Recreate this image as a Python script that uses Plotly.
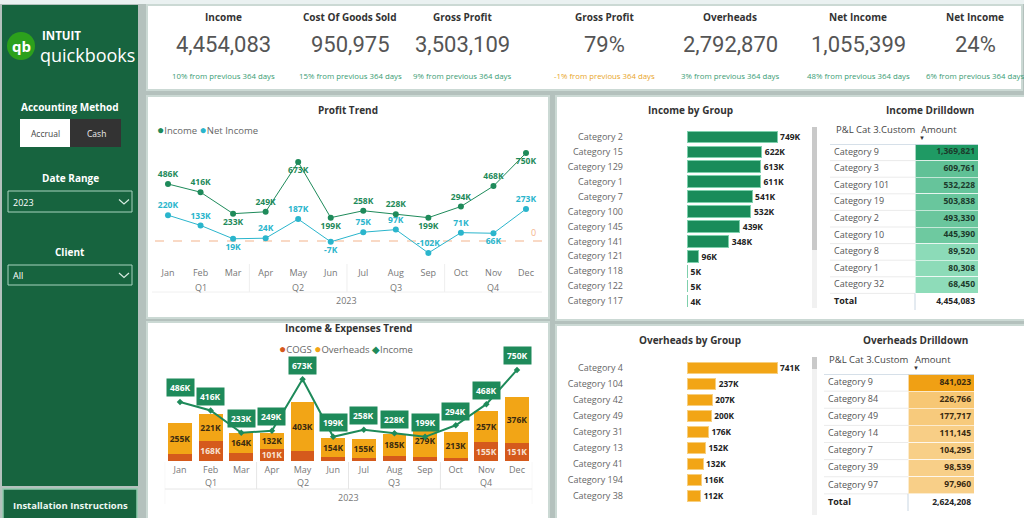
import plotly.graph_objects as go

W, H = 1024, 518
def X(px): return px / W
def Y(py): return 1 - py / H

# ---------------- DATA ----------------
months = ["Jan", "Feb", "Mar", "Apr", "May", "Jun", "Jul", "Aug", "Sep", "Oct", "Nov", "Dec"]
quarters = ["Q1", "Q2", "Q3", "Q4"]
year_label = "2023"
income_k = [486, 416, 233, 249, 673, 199, 258, 228, 199, 294, 468, 750]
net_income_k = [220, 133, 19, 24, 187, -7, 75, 97, -102, 71, 66, 273]
cogs_k = [60, 168, 69, 101, 82, 33, 27, 41, 33, 25, 155, 151]
overheads_k = [255, 221, 164, 132, 403, 154, 155, 185, 279, 213, 257, 376]

income_groups = ["Category 2", "Category 15", "Category 129", "Category 1", "Category 7", "Category 100",
                 "Category 145", "Category 141", "Category 121", "Category 118", "Category 122", "Category 117"]
income_group_k = [749, 622, 613, 611, 541, 532, 439, 348, 96, 5, 5, 4]

overhead_groups = ["Category 4", "Category 104", "Category 42", "Category 49", "Category 31", "Category 13",
                   "Category 41", "Category 194", "Category 38"]
overhead_group_k = [741, 237, 207, 200, 176, 152, 132, 116, 112]

income_dd_cats = ["Category 9", "Category 3", "Category 101", "Category 19", "Category 2", "Category 10",
                  "Category 8", "Category 1", "Category 32"]
income_dd_amounts = [1369821, 609761, 532228, 503838, 493330, 445390, 89520, 80308, 68450]
income_dd_total = 4454083

overhead_dd_cats = ["Category 9", "Category 84", "Category 49", "Category 14", "Category 7", "Category 39", "Category 97"]
overhead_dd_amounts = [841023, 226766, 177717, 111145, 104295, 98539, 97960]
overhead_dd_total = 2624208

kpi_titles = ["Income", "Cost Of Goods Sold", "Gross Profit", "Gross Profit", "Overheads", "Net Income", "Net Income"]
kpi_values = ["4,454,083", "950,975", "3,503,109", "79%", "2,792,870", "1,055,399", "24%"]
kpi_changes = ["10% from previous 364 days", "15% from previous 364 days", "9% from previous 364 days",
               "-1% from previous 364 days", "3% from previous 364 days", "48% from previous 364 days",
               "6% from previous 364 days"]

# ---------------- STYLE ----------------
FONT = "Open Sans"
GREEN = "#1e8a5a"
CYAN = "#2ab5cc"
COGS_C = "#d55a1c"
OVH_C = "#f2a516"
SIDEBAR = "#17643f"
BG = "#b4c1bd"
PANEL_LINE = "#cbd9d4"
kpi_x = [223, 350, 462, 604, 730, 858, 975]

fig = go.Figure()

# ---------- Profit Trend (x / y) ----------
inc_pos = ["top center", "top center", "bottom center", "top center", "bottom center", "bottom center",
           "top center", "top center", "bottom center", "top center", "top center", "bottom center"]
net_pos = ["top center", "top center", "bottom center", "top center", "top center", "bottom center",
           "top center", "top center", "top center", "top center", "bottom center", "top center"]

fig.add_trace(go.Scatter(
    x=months, y=income_k, mode="lines+markers+text", xaxis="x", yaxis="y",
    line=dict(color=GREEN, width=1), marker=dict(color=GREEN, size=6),
    text=[f"{v}K" for v in income_k], texttemplate="<b>%{text}</b>", textposition=inc_pos,
    textfont=dict(color=GREEN, size=8.5, family=FONT), cliponaxis=False, showlegend=False))
fig.add_trace(go.Scatter(
    x=months, y=net_income_k, mode="lines+markers+text", xaxis="x", yaxis="y",
    line=dict(color=CYAN, width=1), marker=dict(color=CYAN, size=6),
    text=[f"{v}K" for v in net_income_k], texttemplate="<b>%{text}</b>", textposition=net_pos,
    textfont=dict(color=CYAN, size=8.5, family=FONT), cliponaxis=False, showlegend=False))

# ---------- Income & Expenses Trend (x2 / y2) ----------
fig.add_trace(go.Bar(
    x=months, y=cogs_k, xaxis="x2", yaxis="y2", marker=dict(color=COGS_C, line=dict(width=0)), width=0.78,
    text=[f"{v}K" if v >= 100 else "" for v in cogs_k], texttemplate="<b>%{text}</b>",
    textposition="inside", insidetextanchor="middle", textangle=0, constraintext="none",
    textfont=dict(color="#f8e2d2", size=8.5, family=FONT), showlegend=False))
fig.add_trace(go.Bar(
    x=months, y=overheads_k, xaxis="x2", yaxis="y2", marker=dict(color=OVH_C, line=dict(width=0)), width=0.78,
    text=[f"{v}K" for v in overheads_k], texttemplate="<b>%{text}</b>",
    textposition="inside", insidetextanchor="middle", textangle=0, constraintext="none",
    textfont=dict(color="#3a2a10", size=8.5, family=FONT), showlegend=False))
fig.add_trace(go.Scatter(
    x=months, y=income_k, mode="lines+markers", xaxis="x2", yaxis="y2",
    line=dict(color=GREEN, width=2), marker=dict(color=GREEN, size=5, symbol="diamond"),
    cliponaxis=False, showlegend=False))

# ---------- Income by Group (x3 / y3) ----------
fig.add_trace(go.Bar(
    x=income_group_k, y=income_groups, orientation="h", xaxis="x3", yaxis="y3", width=0.78,
    marker=dict(color="#1a8c5a", line=dict(color="#7fd0ad", width=1)),
    text=[f"{v}K" for v in income_group_k], texttemplate="<b>%{text}</b>", textposition="outside",
    textfont=dict(color="#222", size=8.5, family=FONT), cliponaxis=False, showlegend=False))

# ---------- Overheads by Group (x4 / y4) ----------
fig.add_trace(go.Bar(
    x=overhead_group_k, y=overhead_groups, orientation="h", xaxis="x4", yaxis="y4", width=0.67,
    marker=dict(color=OVH_C, line=dict(color="#f7cf80", width=1)),
    text=[f"{v}K" for v in overhead_group_k], texttemplate="<b>%{text}</b>", textposition="outside",
    textfont=dict(color="#222", size=8.5, family=FONT), cliponaxis=False, showlegend=False))

# ---------- Drilldown tables (coloured cells + text columns) ----------
shapes = []
table_axes = {}

def hex2rgb(h):
    h = h.lstrip("#")
    return [int(h[i:i + 2], 16) for i in (0, 2, 4)]

def lerp(c0, c1, t):
    a, b = hex2rgb(c0), hex2rgb(c1)
    return "rgb(%d,%d,%d)" % tuple(round(a[i] + (b[i] - a[i]) * t) for i in range(3))

def drill(k, cats, amounts, total, light, dark, txtc, x0px, x1px, split_px, ytop, ybot):
    n = len(cats)
    rows = cats + ["Total"]
    w = x1px - x0px
    f = (split_px - x0px) / w
    xa, ya = f"x{k}", f"y{k}"
    table_axes[f"xaxis{k}"] = dict(domain=[X(x0px), X(x1px)], anchor=ya, range=[0, 1], visible=False,
                                   fixedrange=True, showgrid=False, zeroline=False)
    table_axes[f"yaxis{k}"] = dict(domain=[Y(ybot), Y(ytop)], anchor=xa, type="category",
                                   categoryorder="array", categoryarray=rows, range=[n + 0.5, -0.5],
                                   visible=False, fixedrange=True, showgrid=False, zeroline=False)
    lo, hi = min(amounts), max(amounts)
    fills = [lerp(light, dark, (v - lo) / (hi - lo)) for v in amounts]
    fig.add_trace(go.Bar(
        y=cats, x=[1 - f] * n, base=f, orientation="h", width=1, xaxis=xa, yaxis=ya,
        marker=dict(color=fills, line=dict(color="rgba(255,255,255,0.6)", width=1)),
        hoverinfo="skip", showlegend=False))
    fig.add_trace(go.Scatter(
        x=[4 / w] * (n + 1), y=rows, mode="text", xaxis=xa, yaxis=ya,
        text=cats + ["<b>Total</b>"], textposition="middle right",
        textfont=dict(size=9, family=FONT, color=["#555"] * n + ["#222"]),
        cliponaxis=False, showlegend=False, hoverinfo="skip"))
    fig.add_trace(go.Scatter(
        x=[1 - 3 / w] * (n + 1), y=rows, mode="text", xaxis=xa, yaxis=ya,
        text=[f"<b>{v:,}</b>" for v in amounts] + [f"<b>{total:,}</b>"], textposition="middle left",
        textfont=dict(size=8.5, family=FONT, color=[txtc] * n + ["#222"]),
        cliponaxis=False, showlegend=False, hoverinfo="skip"))
    for i in range(n):
        shapes.append(dict(type="line", xref=xa, yref=ya, x0=0, x1=f, y0=i + 0.5, y1=i + 0.5,
                           line=dict(color="#ebebeb", width=1), layer="above"))
    shapes.append(dict(type="line", xref=xa, yref=ya, x0=0, x1=1, y0=-0.5, y1=-0.5,
                       line=dict(color="#c9d6e2", width=1.3), layer="above"))
    shapes.append(dict(type="line", xref=xa, yref=ya, x0=f, x1=f, y0=n - 0.5, y1=n + 0.5,
                       line=dict(color="#c9d6e2", width=1), layer="above"))

drill(5, income_dd_cats, income_dd_amounts, income_dd_total, "#8edcb9", "#1f9a64", "#1c3a2b",
      830, 978, 915, 144, 310)
drill(6, overhead_dd_cats, overhead_dd_amounts, overhead_dd_total, "#f8cf88", "#f0a014", "#3a2a10",
      824, 974, 908, 374, 511)

# ---------- Axes ----------
s1 = (526 - 168) / 11
s2 = (517 - 180) / 11
ax_common = dict(showgrid=False, zeroline=False, showline=False, ticks="", fixedrange=True)
fig.update_layout(
    xaxis=dict(domain=[X(168 - s1 / 2), X(526 + s1 / 2)], anchor="y", type="category", range=[-0.5, 11.5],
               tickfont=dict(size=9, color="#777", family=FONT), ticklabelstandoff=4, **ax_common),
    yaxis=dict(domain=[Y(262), Y(140)], anchor="x", range=[-179, 861], visible=False, **ax_common),
    xaxis2=dict(domain=[X(180 - s2 / 2), X(517 + s2 / 2)], anchor="y2", type="category", range=[-0.5, 11.5],
                tickfont=dict(size=9, color="#777", family=FONT), ticklabelstandoff=2, **ax_common),
    yaxis2=dict(domain=[Y(461), Y(362)], anchor="x2", range=[0, 815], visible=False, **ax_common),
    xaxis3=dict(domain=[X(687), X(800)], anchor="y3", range=[0, 113 / 0.1202], visible=False, **ax_common),
    yaxis3=dict(domain=[Y(308.5), Y(129.5)], anchor="x3", type="category", range=[11.5, -0.5],
                tickfont=dict(size=9, color="#666", family=FONT), ticklabelstandoff=63, **ax_common),
    xaxis4=dict(domain=[X(687), X(800)], anchor="y4", range=[0, 113 / 0.1215], visible=False, **ax_common),
    yaxis4=dict(domain=[Y(504), Y(360)], anchor="x4", type="category", range=[8.5, -0.5],
                tickfont=dict(size=9, color="#666", family=FONT), ticklabelstandoff=63, **ax_common),
    barmode="stack",
    **table_axes,
)

# ---------- Shapes ----------
def rect(x0, y0, x1, y1, fill, line=None, lw=0, layer="below"):
    shapes.append(dict(type="rect", xref="paper", yref="paper", x0=X(x0), x1=X(x1), y0=Y(y1), y1=Y(y0),
                       fillcolor=fill, line=dict(color=line or fill, width=lw), layer=layer))

rect(0, 0, 1024, 4, "#eaf1f1")
# sidebar
rect(2, 5, 138, 486, SIDEBAR)
rect(3, 489, 137, 520, SIDEBAR, "#8fc9ad", 1.5)
shapes.append(dict(type="circle", xref="paper", yref="paper", x0=X(7), x1=X(35), y0=Y(60), y1=Y(32),
                   fillcolor="#2ca01c", line=dict(width=0), layer="below"))
rect(20, 119, 70, 147, "white")
rect(70, 119, 121, 147, "#333333")
for (yt, yb) in [(191, 212), (265, 285)]:
    rect(8, yt, 132, yb, SIDEBAR, "#a9d3bf", 1)
    ym = (yt + yb) / 2
    shapes.append(dict(type="path", xref="paper", yref="paper",
                       path=f"M {X(119)} {Y(ym - 2)} L {X(124)} {Y(ym + 2.5)} L {X(129)} {Y(ym - 2)}",
                       line=dict(color="#d8ece2", width=1.2), layer="above"))
# panels
rect(147, 5, 1022, 90, "white", PANEL_LINE, 2)
rect(147, 96, 549, 318, "white", PANEL_LINE, 2)
rect(147, 322, 549, 522, "white", PANEL_LINE, 2)
rect(556, 96, 1026, 320, "white", PANEL_LINE, 2)
rect(556, 325, 1026, 522, "white", PANEL_LINE, 2)

# profit trend zero line + axis dividers
shapes.append(dict(type="line", xref="paper", yref="y", x0=X(155), x1=X(542), y0=0, y1=0,
                   line=dict(color="#f3b48c", width=1.2, dash="dash"), layer="below"))
for b in [2.5, 5.5, 8.5]:
    shapes.append(dict(type="line", xref="x", yref="paper", x0=b, x1=b, y0=Y(264), y1=Y(292),
                       line=dict(color="#eeeeee", width=1), layer="below"))
    shapes.append(dict(type="line", xref="x2", yref="paper", x0=b, x1=b, y0=Y(462), y1=Y(489),
                       line=dict(color="#e6e6e6", width=1), layer="below"))
for b in [-0.5, 11.5]:
    shapes.append(dict(type="line", xref="x2", yref="paper", x0=b, x1=b, y0=Y(462), y1=Y(504),
                       line=dict(color="#eeeeee", width=1), layer="below"))
shapes.append(dict(type="line", xref="x", yref="paper", x0=-0.5, x1=11.5, y0=Y(292), y1=Y(292),
                   line=dict(color="#f0f0f0", width=1), layer="below"))
shapes.append(dict(type="line", xref="x2", yref="paper", x0=-0.5, x1=11.5, y0=Y(489), y1=Y(489),
                   line=dict(color="#e6e6e6", width=1), layer="below"))

# scrollbars
rect(812, 127, 817, 308, "#f1f1f1")
rect(812, 127, 817, 250, "#c9c9c9")
rect(812, 357, 817, 515, "#f1f1f1")
rect(812, 357, 817, 369, "#c9c9c9")

fig.update_layout(shapes=shapes)

# ---------- Annotations ----------
ann = []
def txt(x, y, t, size=9, color="#333", bold=False, xanchor="center", family=FONT, **kw):
    ann.append(dict(xref="paper", yref="paper", x=X(x), y=Y(y), text=f"<b>{t}</b>" if bold else t,
                    showarrow=False, xanchor=xanchor, yanchor="middle",
                    font=dict(size=size, color=color, family=family), **kw))

# sidebar
txt(21, 46, "qb", 15, "white", True)
txt(40, 36, "INTUIT", 11.5, "white", True, "left")
txt(38, 55, "quickbooks", 18, "white", False, "left")
txt(70, 107, "Accounting Method", 10, "white", True)
txt(45, 133, "Accrual", 8.5, "#444")
txt(96, 133, "Cash", 8.5, "#eeeeee")
txt(70, 178, "Date Range", 10, "white", True)
txt(11, 202, "2023", 9, "white", False, "left")
txt(70, 252, "Client", 10, "white", True)
txt(11, 275, "All", 9, "white", False, "left")
txt(70, 505, "Installation Instructions", 9.5, "#eef7f2", True)

# KPIs
for xk, t, v, c in zip(kpi_x, kpi_titles, kpi_values, kpi_changes):
    txt(xk, 17, t, 10, "#333", True)
    txt(xk, 44, v, 22, "#555", family="Roboto")
    txt(xk, 76, c, 7.8, "#e8a52a" if c.startswith("-") else "#3a9c74")

# titles
txt(348, 110, "Profit Trend", 10, "#333", True)
txt(348, 328, "Income &amp; Expenses Trend", 10, "#333", True)
txt(690, 110, "Income by Group", 10, "#333", True)
txt(930, 110, "Income Drilldown", 10, "#333", True)
txt(690, 340, "Overheads by Group", 10, "#333", True)
txt(915, 340, "Overheads Drilldown", 10, "#333", True)

# table headers
txt(834, 129, "P&amp;L Cat 3.Custom", 9.5, "#444", False, "left")
txt(919, 129, "Amount", 9.5, "#444", False, "left")
txt(922, 138, "▼", 6, "#333")
txt(827, 359, "P&amp;L Cat 3.Custom", 9.5, "#444", False, "left")
txt(913, 359, "Amount", 9.5, "#444", False, "left")
txt(916, 368, "▼", 6, "#333")

# legends
txt(155, 130, f"<span style='color:{GREEN};font-size:12px'>●</span>Income "
              f"<span style='color:{CYAN};font-size:12px'>●</span>Net Income",
    9.5, "#666", False, "left")
txt(346, 348, f"<span style='color:{COGS_C};font-size:12px'>●</span>COGS "
              f"<span style='color:{OVH_C};font-size:12px'>●</span>Overheads "
              f"<span style='color:{GREEN}'>◆</span>Income", 9.5, "#666")

# zero label
ann.append(dict(xref="paper", yref="y", x=X(533), y=0, yshift=9, text="0", showarrow=False,
                font=dict(size=9, color="#f3b48c", family=FONT)))

# quarter / year labels
for i, q in enumerate(quarters):
    c = 3 * i + 1
    ann.append(dict(xref="x", yref="paper", x=c, y=Y(287), text=q, showarrow=False, yanchor="middle",
                    font=dict(size=9, color="#777", family=FONT)))
    ann.append(dict(xref="x2", yref="paper", x=c, y=Y(482), text=q, showarrow=False, yanchor="middle",
                    font=dict(size=9, color="#777", family=FONT)))
ann.append(dict(xref="x", yref="paper", x=5.5, y=Y(300), text=year_label, showarrow=False, yanchor="middle",
                font=dict(size=9, color="#777", family=FONT)))
ann.append(dict(xref="x2", yref="paper", x=5.5, y=Y(497), text=year_label, showarrow=False, yanchor="middle",
                font=dict(size=9, color="#777", family=FONT)))

# income label boxes on the combo chart
for i, v in enumerate(income_k):
    ann.append(dict(xref="x2", yref="y2", x=i, y=v, yshift=14, text=f"<b>{v}K</b>", showarrow=False,
                    bgcolor=GREEN, borderpad=3, font=dict(size=8.5, color="white", family=FONT)))

fig.update_layout(annotations=ann)

fig.update_layout(
    width=W, height=H, margin=dict(l=0, r=0, t=0, b=0),
    paper_bgcolor=BG, plot_bgcolor="rgba(0,0,0,0)",
    font=dict(family=FONT, size=9, color="#555"),
    showlegend=False,
)

fig.write_html("out.html", config={"displayModeBar": False})
